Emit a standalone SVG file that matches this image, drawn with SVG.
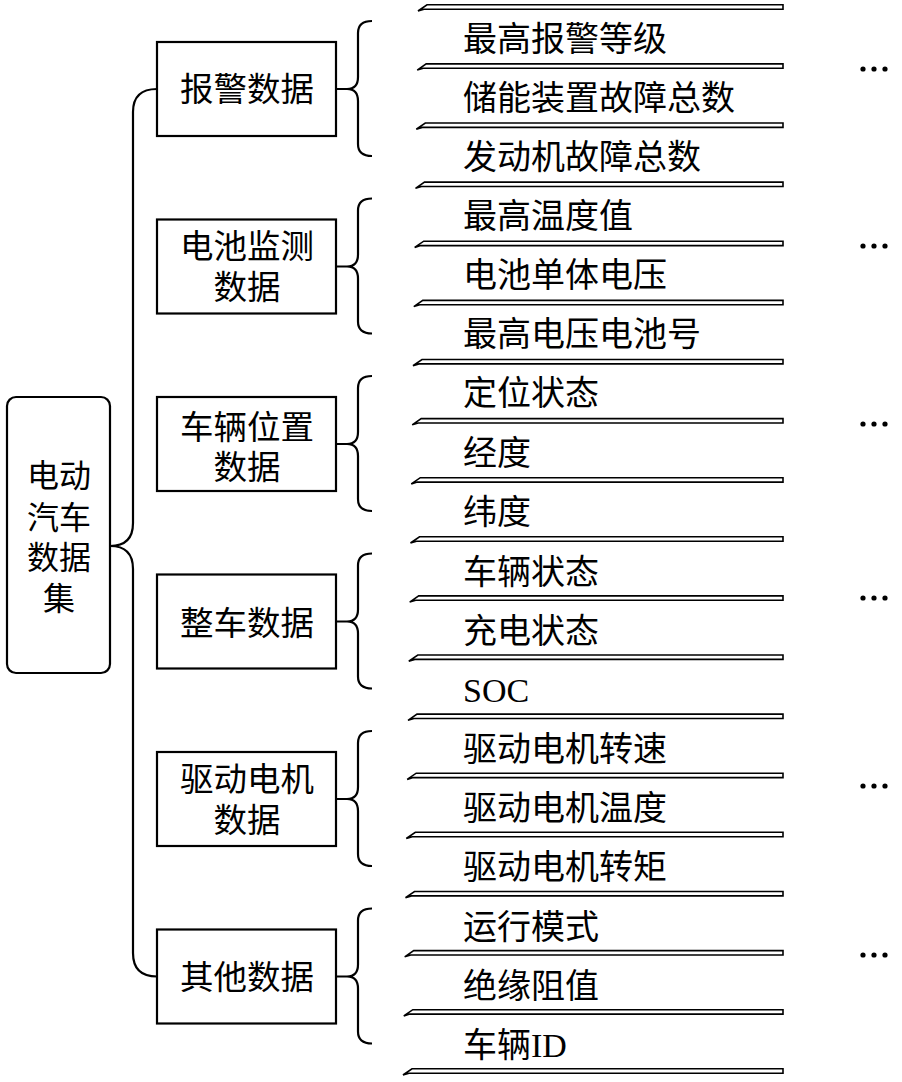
<svg xmlns="http://www.w3.org/2000/svg" width="902" height="1082" viewBox="0 0 902 1082">
<style>
.box{fill:#fff;stroke:#000;stroke-width:2.2}
.con{fill:none;stroke:#000;stroke-width:2.2}
.shelf{fill:#fff;stroke:#000;stroke-width:1.6;stroke-linejoin:miter}
text{font-family:"Liberation Serif","Noto Sans CJK SC",serif;fill:#000}
.t{font-size:34px}
.c{font-size:33.5px;text-anchor:middle}
.r{font-size:32px;text-anchor:middle}
.dot{fill:#000}
</style>
<g id="connectors">
<path class="con" d="M110,546 Q133,546 133,523 V112 Q133,89 157,89"/>
<path class="con" d="M110,546 Q133,546 133,569 V953 Q133,976.5 157,976.5"/>
<path class="con" d="M336,89 H347 Q358,89 358,77 V33 Q358,21 372,21 M347,89 Q358,89 358,101 V144 Q358,156 372,156"/>
<path class="con" d="M336,266.5 H347 Q358,266.5 358,254.5 V210.5 Q358,198.5 372,198.5 M347,266.5 Q358,266.5 358,278.5 V321.5 Q358,333.5 372,333.5"/>
<path class="con" d="M336,444 H347 Q358,444 358,432 V388 Q358,376 372,376 M347,444 Q358,444 358,456 V499 Q358,511 372,511"/>
<path class="con" d="M336,621.5 H347 Q358,621.5 358,609.5 V565.5 Q358,553.5 372,553.5 M347,621.5 Q358,621.5 358,633.5 V676.5 Q358,688.5 372,688.5"/>
<path class="con" d="M336,799 H347 Q358,799 358,787 V743 Q358,731 372,731 M347,799 Q358,799 358,811 V854 Q358,866 372,866"/>
<path class="con" d="M336,976.5 H347 Q358,976.5 358,964.5 V920.5 Q358,908.5 372,908.5 M347,976.5 Q358,976.5 358,988.5 V1031.5 Q358,1043.5 372,1043.5"/>
</g>
<g id="shelves">
<path class="shelf" d="M783,4.8 H427 L418,11 L424,9.2 H783 Z"/>
<path class="shelf" d="M783,63.9 H426.2 L417.2,70.1 L423.2,68.3 H783 Z"/>
<path class="shelf" d="M783,123 H425.3 L416.3,129.2 L422.3,127.4 H783 Z"/>
<path class="shelf" d="M783,182.1 H424.5 L415.5,188.3 L421.5,186.5 H783 Z"/>
<path class="shelf" d="M783,241.2 H423.7 L414.7,247.4 L420.7,245.6 H783 Z"/>
<path class="shelf" d="M783,300.4 H422.8 L413.8,306.6 L419.8,304.8 H783 Z"/>
<path class="shelf" d="M783,359.5 H422 L413,365.7 L419,363.9 H783 Z"/>
<path class="shelf" d="M783,418.6 H421.2 L412.2,424.8 L418.2,423 H783 Z"/>
<path class="shelf" d="M783,477.7 H420.3 L411.3,483.9 L417.3,482.1 H783 Z"/>
<path class="shelf" d="M783,536.8 H419.5 L410.5,543 L416.5,541.2 H783 Z"/>
<path class="shelf" d="M783,595.9 H418.7 L409.7,602.1 L415.7,600.3 H783 Z"/>
<path class="shelf" d="M783,655 H417.8 L408.8,661.2 L414.8,659.4 H783 Z"/>
<path class="shelf" d="M783,714.1 H417 L408,720.3 L414,718.5 H783 Z"/>
<path class="shelf" d="M783,773.2 H416.2 L407.2,779.4 L413.2,777.6 H783 Z"/>
<path class="shelf" d="M783,832.3 H415.3 L406.3,838.5 L412.3,836.7 H783 Z"/>
<path class="shelf" d="M783,891.5 H414.5 L405.5,897.7 L411.5,895.9 H783 Z"/>
<path class="shelf" d="M783,950.6 H413.7 L404.7,956.8 L410.7,955 H783 Z"/>
<path class="shelf" d="M783,1009.7 H412.8 L403.8,1015.9 L409.8,1014.1 H783 Z"/>
<path class="shelf" d="M783,1068.8 H412 L403,1075 L409,1073.2 H783 Z"/>
</g>
<g id="root">
<rect class="box" x="7" y="397" width="103" height="276" rx="9"/>
<text class="r" x="59" y="487">电动</text>
<text class="r" x="59" y="529">汽车</text>
<text class="r" x="59" y="569">数据</text>
<text class="r" x="59" y="610">集</text>
</g>
<g id="cat1">
<rect class="box" x="157" y="42" width="179" height="94"/>
<text class="c" x="247" y="101">报警数据</text>
</g>
<g id="cat2">
<rect class="box" x="157" y="219.5" width="179" height="94"/>
<text class="c" x="247" y="258">电池监测</text>
<text class="c" x="247" y="299">数据</text>
</g>
<g id="cat3">
<rect class="box" x="157" y="397" width="179" height="94"/>
<text class="c" x="247" y="439">车辆位置</text>
<text class="c" x="247" y="479">数据</text>
</g>
<g id="cat4">
<rect class="box" x="157" y="574.5" width="179" height="94"/>
<text class="c" x="247" y="635">整车数据</text>
</g>
<g id="cat5">
<rect class="box" x="157" y="752" width="179" height="94"/>
<text class="c" x="247" y="791">驱动电机</text>
<text class="c" x="247" y="832">数据</text>
</g>
<g id="cat6">
<rect class="box" x="157" y="929.5" width="179" height="94"/>
<text class="c" x="247" y="989">其他数据</text>
</g>
<g id="items">
<text class="t" x="463" y="51">最高报警等级</text>
<text class="t" x="463" y="110">储能装置故障总数</text>
<text class="t" x="463" y="169">发动机故障总数</text>
<text class="t" x="463" y="228">最高温度值</text>
<text class="t" x="463" y="287">电池单体电压</text>
<text class="t" x="463" y="346">最高电压电池号</text>
<text class="t" x="463" y="405">定位状态</text>
<text class="t" x="463" y="465">经度</text>
<text class="t" x="463" y="524">纬度</text>
<text class="t" x="463" y="584">车辆状态</text>
<text class="t" x="463" y="643">充电状态</text>
<text class="t" x="463" y="702">SOC</text>
<text class="t" x="463" y="761">驱动电机转速</text>
<text class="t" x="463" y="820">驱动电机温度</text>
<text class="t" x="463" y="879">驱动电机转矩</text>
<text class="t" x="463" y="939">运行模式</text>
<text class="t" x="463" y="998">绝缘阻值</text>
<text class="t" x="463" y="1057">车辆ID</text>
</g>
<g id="ellipses">
<circle class="dot" cx="863" cy="69" r="2.6"/><circle class="dot" cx="874" cy="69" r="2.6"/><circle class="dot" cx="885" cy="69" r="2.6"/>
<circle class="dot" cx="863" cy="246" r="2.6"/><circle class="dot" cx="874" cy="246" r="2.6"/><circle class="dot" cx="885" cy="246" r="2.6"/>
<circle class="dot" cx="863" cy="424" r="2.6"/><circle class="dot" cx="874" cy="424" r="2.6"/><circle class="dot" cx="885" cy="424" r="2.6"/>
<circle class="dot" cx="863" cy="598" r="2.6"/><circle class="dot" cx="874" cy="598" r="2.6"/><circle class="dot" cx="885" cy="598" r="2.6"/>
<circle class="dot" cx="863" cy="786" r="2.6"/><circle class="dot" cx="874" cy="786" r="2.6"/><circle class="dot" cx="885" cy="786" r="2.6"/>
<circle class="dot" cx="863" cy="955" r="2.6"/><circle class="dot" cx="874" cy="955" r="2.6"/><circle class="dot" cx="885" cy="955" r="2.6"/>
</g>
</svg>
